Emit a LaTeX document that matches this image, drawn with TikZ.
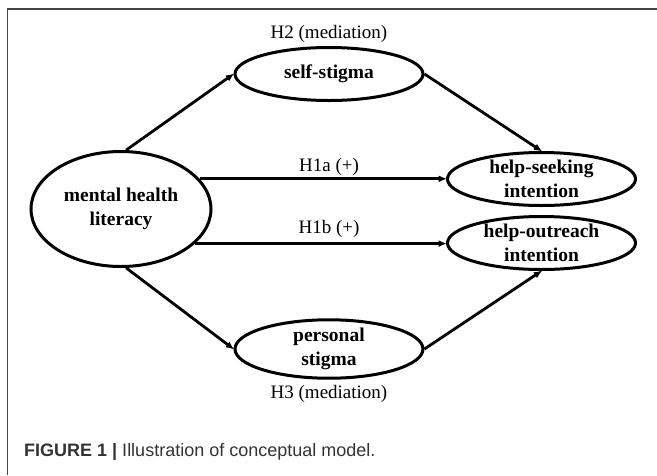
\documentclass[tikz,border=0pt]{standalone}
\usepackage{fontspec}
\setmainfont{Liberation Serif}
\setsansfont{Liberation Sans}
\usetikzlibrary{shapes.geometric,arrows.meta}
\tikzset{
  ell/.style={ellipse, draw, line width=3pt, inner sep=0pt, align=center,
    font=\fontsize{19.5}{23.5}\selectfont\bfseries},
  conn/.style={line width=2.8pt, -{Latex[length=8.5pt,width=7pt]}, shorten >=-1pt},
  lbl/.style={font=\fontsize{19}{23}\selectfont, inner sep=0pt},
}
\begin{document}
\begin{tikzpicture}[x=1pt,y=-1pt]
\useasboundingbox (0,0) rectangle (657,475);
\draw[draw=black!72, line width=1.4pt] (7.5,475) -- (7.5,9) -- (657,9);
\node[ell, minimum width=180pt, minimum height=115pt] (m) at (121,209) {mental health\\literacy};
\node[ell, minimum width=188pt, minimum height=53pt] (s) at (329,74) {self-stigma};
\node[ell, minimum width=188pt, minimum height=53pt] (hs) at (541.5,179) {help-seeking\\intention};
\node[ell, minimum width=188pt, minimum height=53pt] (ho) at (541.5,243) {help-outreach\\intention};
\node[ell, minimum width=188pt, minimum height=53pt] (p) at (329,349) {personal\\stigma};
\node[lbl] (h2) at (329,34) {H2 (mediation)};
\node[lbl] (h1a) at (329,167) {H1a (+)};
\node[lbl] (h1b) at (329,229) {H1b (+)};
\node[lbl] (h3) at (329,394) {H3 (mediation)};
\draw[conn] (m.85) -- (s.west);
\draw[conn] (s.east) -- (hs.north);
\draw[conn] (m.21) -- (m.21 -| hs.west);
\draw[conn] (m.-25) -- (m.-25 -| ho.west);
\draw[conn] (m.-85) -- (p.west);
\draw[conn] (p.east) -- (ho.south);
\node[anchor=west, inner sep=0pt, text=black!80, font=\sffamily\fontsize{18}{22}\selectfont] (cap) at (24,452) {\textbf{FIGURE 1 |} Illustration of conceptual model.};
\end{tikzpicture}
\end{document}
